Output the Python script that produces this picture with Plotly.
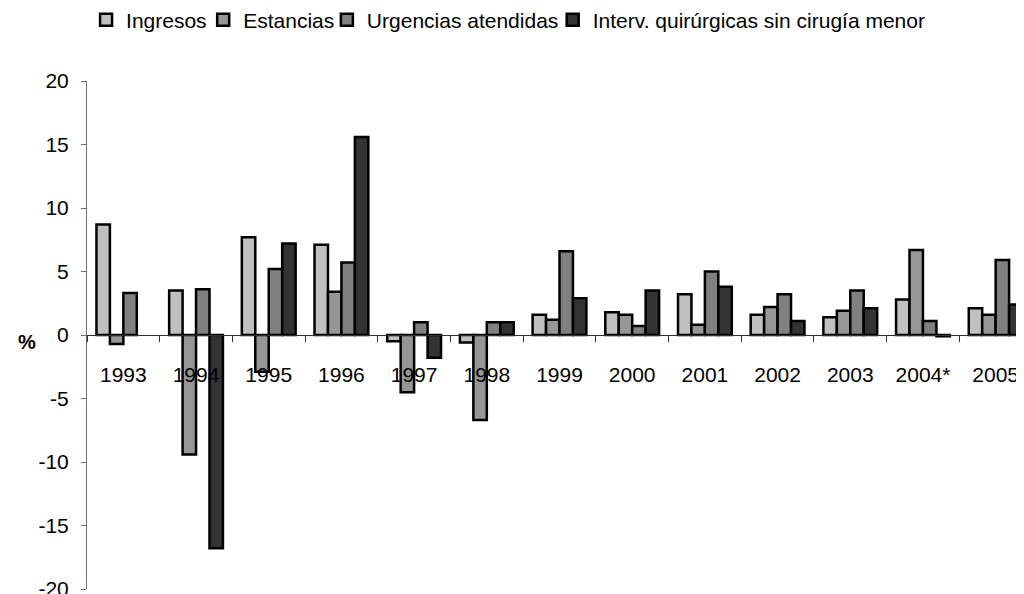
import plotly.graph_objects as go

years = ["1993", "1994", "1995", "1996", "1997", "1998", "1999",
         "2000", "2001", "2002", "2003", "2004*", "2005"]

ingresos = [8.7, 3.5, 7.7, 7.1, -0.5, -0.6, 1.6, 1.8, 3.2, 1.6, 1.4, 2.8, 2.1]
estancias = [-0.7, -9.4, -2.9, 3.4, -4.5, -6.7, 1.2, 1.6, 0.8, 2.2, 1.9, 6.7, 1.6]
urgencias = [3.3, 3.6, 5.2, 5.7, 1.0, 1.0, 6.6, 0.7, 5.0, 3.2, 3.5, 1.1, 5.9]
interv = [None, -16.8, 7.2, 15.6, -1.8, 1.0, 2.9, 3.5, 3.8, 1.1, 2.1, -0.1, 2.4]

y_ticks = [-20, -15, -10, -5, 0, 5, 10, 15, 20]
y_tick_text = ["-20", "-15", "-10", "-5", "0", "5", "10", "15", "20"]

series = [
    ("Ingresos", ingresos, "#c0c0c0"),
    ("Estancias", estancias, "#969696"),
    ("Urgencias atendidas", urgencias, "#808080"),
    ("Interv. quirúrgicas sin cirugía menor", interv, "#333333"),
]

# one legend per entry so the entries can sit close together like the original
legend_x = [-0.001, 0.124, 0.256, 0.497]
legend_ids = ["legend", "legend2", "legend3", "legend4"]

fig = go.Figure()
for (name, vals, color), lid in zip(series, legend_ids):
    fig.add_trace(go.Bar(
        x=years, y=vals, name=name, legend=lid,
        marker=dict(color=color, line=dict(color="black", width=2.5)),
    ))

font = "Liberation Sans, Arial, sans-serif"

layout_legends = {}
for lid, lx in zip(legend_ids, legend_x):
    layout_legends[lid] = dict(
        orientation="h", x=lx, xanchor="left", y=1.12, yanchor="middle",
        font=dict(size=21), bgcolor="rgba(0,0,0,0)",
    )

fig.update_layout(
    width=1016, height=586,
    barmode="group", bargap=0.26, bargroupgap=0,
    plot_bgcolor="white", paper_bgcolor="white",
    margin=dict(l=79, r=0, t=73, b=5, autoexpand=False),
    font=dict(family=font, size=21, color="black"),
    showlegend=True,
    xaxis=dict(
        type="category", range=[-0.5, 12.39],
        anchor="free", position=0.5,
        showline=True, linecolor="#303030", linewidth=1,
        ticks="outside", ticklen=6, tickcolor="#303030", tickson="boundaries",
        ticklabelstandoff=21, showgrid=False, zeroline=False,
    ),
    yaxis=dict(
        range=[-20, 20], tickvals=y_ticks, ticktext=y_tick_text, domain=[0, 1],
        showline=True, linecolor="#707070", linewidth=1,
        ticks="outside", ticklen=5, tickcolor="#707070",
        ticklabelstandoff=8, ticklabeloverflow="allow",
        showgrid=False, zeroline=False,
    ),
    **layout_legends,
)

fig.add_annotation(
    text="<b>%</b>", xref="paper", yref="paper", x=-0.064, y=0.486,
    showarrow=False, font=dict(size=20), xanchor="center", yanchor="middle",
)

fig.write_html("out.html")
